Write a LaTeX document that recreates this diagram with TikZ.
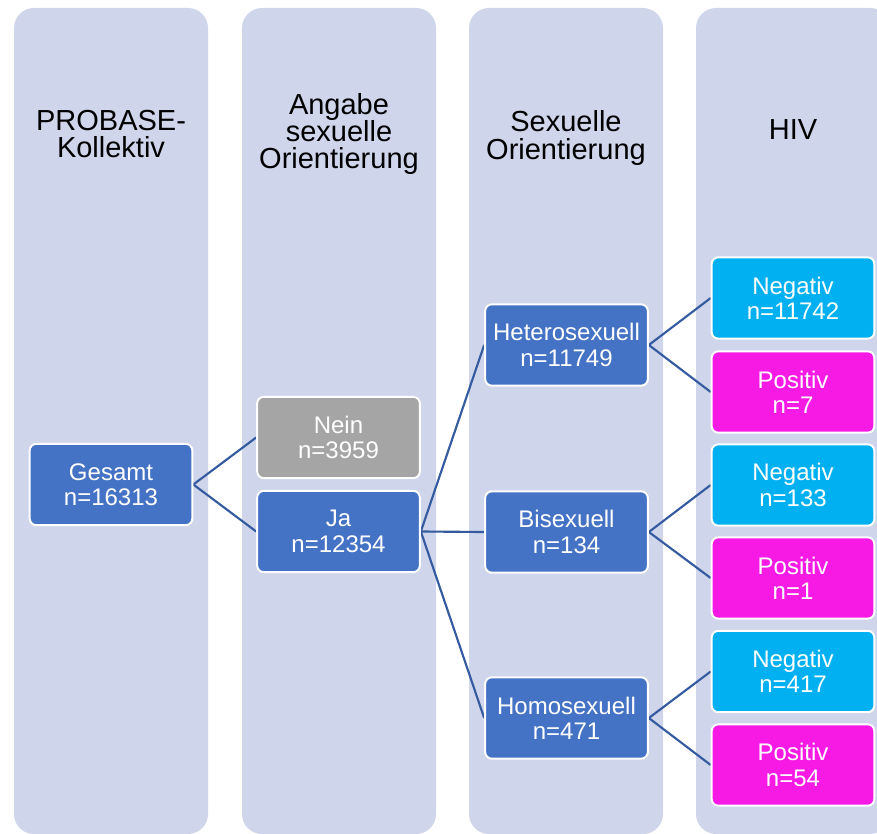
\documentclass[tikz,border=0pt]{standalone}
\usepackage{fontspec}
\setmainfont{Liberation Sans}
\usetikzlibrary{backgrounds}
\definecolor{colbg}{RGB}{207,213,234}
\definecolor{boxblue}{RGB}{68,114,196}
\definecolor{boxgray}{RGB}{165,165,165}
\definecolor{boxcyan}{RGB}{0,176,240}
\definecolor{boxmag}{RGB}{247,26,229}
\definecolor{linkblue}{RGB}{52,90,160}
\tikzset{
  colbox/.style={fill=colbg, draw=none, rounded corners=15pt},
  header/.style={align=center, text=black, font=\fontsize{21.75pt}{20.5pt}\selectfont, inner sep=0pt},
  box/.style={draw=white, line width=1.5pt, rounded corners=5pt, minimum width=122pt, minimum height=61pt,
    inner sep=0pt, align=center, text=white, font=\fontsize{18pt}{19pt}\selectfont},
  bluebox/.style={box, fill=boxblue},
  graybox/.style={box, fill=boxgray},
  negbox/.style={box, fill=boxcyan},
  posbox/.style={box, fill=boxmag},
  link/.style={draw=linkblue, line width=1.6pt}
}
\begin{document}
\begin{tikzpicture}[x=0.75pt, y=-0.75pt]
\useasboundingbox (0,0) rectangle (877,834);
\clip (0,0) rectangle (877,834);
% columns
\begin{scope}[on background layer]
\fill[colbox] (14,8) rectangle (208,834);
\fill[colbox] (242,8) rectangle (436,834);
\fill[colbox] (469,8) rectangle (663,834);
\fill[colbox] (696,8) rectangle (890,834);
\end{scope}
% headers
\node[header] (h1) at (111,134) {PROBASE-\\Kollektiv};
\node[header] (h2) at (339,134) {Angabe\\sexuelle\\Orientierung};
\node[header] (h3) at (566,138) {Sexuelle\\Orientierung};
\node[header] (h4) at (793,130) {HIV};
% nodes
\node[bluebox] (ges) at (111,484.5) {Gesamt\\n=16313};
\node[graybox] (nein) at (338.5,437.5) {Nein\\n=3959};
\node[bluebox] (ja) at (338.5,531.5) {Ja\\n=12354};
\node[bluebox] (het) at (566.5,345) {Heterosexuell\\n=11749};
\node[bluebox] (bi) at (566.5,532) {Bisexuell\\n=134};
\node[bluebox] (hom) at (566.5,718) {Homosexuell\\n=471};
\node[negbox] (n1) at (793,298) {Negativ\\n=11742};
\node[posbox] (p1) at (793,392) {Positiv\\n=7};
\node[negbox] (n2) at (793,485) {Negativ\\n=133};
\node[posbox] (p2) at (793,578) {Positiv\\n=1};
\node[negbox] (n3) at (793,671.5) {Negativ\\n=417};
\node[posbox] (p3) at (793,765) {Positiv\\n=54};
% connectors
\begin{scope}[on background layer]
\draw[link] (ges.east) -- (nein.west);
\draw[link] (ges.east) -- (ja.west);
\draw[link] (ja.east) -- (het.west);
\draw[link] (ja.east) -- (bi.west);
\draw[link] (ja.east) -- (hom.west);
\draw[link] (het.east) -- (n1.west);
\draw[link] (het.east) -- (p1.west);
\draw[link] (bi.east) -- (n2.west);
\draw[link] (bi.east) -- (p2.west);
\draw[link] (hom.east) -- (n3.west);
\draw[link] (hom.east) -- (p3.west);
\end{scope}
\end{tikzpicture}
\end{document}
